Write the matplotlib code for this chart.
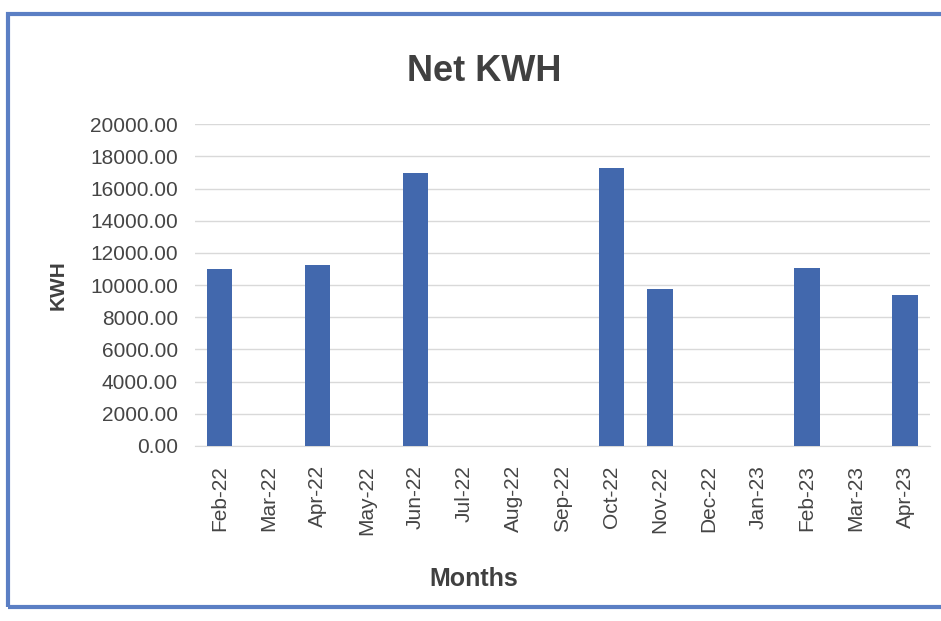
import numpy as np
import matplotlib.pyplot as plt
from matplotlib.patches import Rectangle

months = ['Feb-22', 'Mar-22', 'Apr-22', 'May-22', 'Jun-22', 'Jul-22', 'Aug-22',
          'Sep-22', 'Oct-22', 'Nov-22', 'Dec-22', 'Jan-23', 'Feb-23', 'Mar-23', 'Apr-23']
net_kwh = [11000, 0, 11250, 0, 16950, 0, 0, 0, 17300, 9750, 0, 0, 11050, 0, 9400]

plt.rcParams['font.family'] = ['Liberation Sans', 'DejaVu Sans']

fig = plt.figure(figsize=(9.41, 6.21), dpi=100)
ax = fig.add_axes([0.207, 0.282, 0.781, 0.518])

x = np.arange(len(months))
ax.bar(x, net_kwh, width=0.52, color='#4268ad', zorder=3)

ax.set_xlim(-0.5, len(months) - 0.5)
ax.set_ylim(0, 20000)
ticks = np.arange(0, 20001, 2000)
ax.set_yticks(ticks)
ax.set_yticklabels(['%.2f' % v for v in ticks], fontsize=15, color='#454545')
ax.set_xticks(x)
ax.set_xticklabels(months, rotation=90, fontsize=15, color='#454545')
ax.tick_params(axis='y', length=0, pad=12)
ax.tick_params(axis='x', length=0, pad=14)
ax.grid(axis='y', color='#d9d9d9', linewidth=1, zorder=0)
for s in ['top', 'right', 'left']:
    ax.spines[s].set_visible(False)
ax.spines['bottom'].set_color('#d9d9d9')

ax.set_ylabel('KWH', fontsize=15, fontweight='bold', color='#404040', labelpad=16)
ax.set_xlabel('Months', fontsize=18, fontweight='bold', color='#404040')
ax.xaxis.set_label_coords(0.38, -0.375)
fig.text(0.515, 0.885, 'Net KWH', ha='center', va='center', fontsize=26,
         fontweight='bold', color='#404040')

fig.patches.append(Rectangle((0.009, 0.022), 1.05, 0.955, transform=fig.transFigure,
                             fill=False, edgecolor='#5b7fc4', linewidth=3))

fig.savefig('out.png', dpi=100)
